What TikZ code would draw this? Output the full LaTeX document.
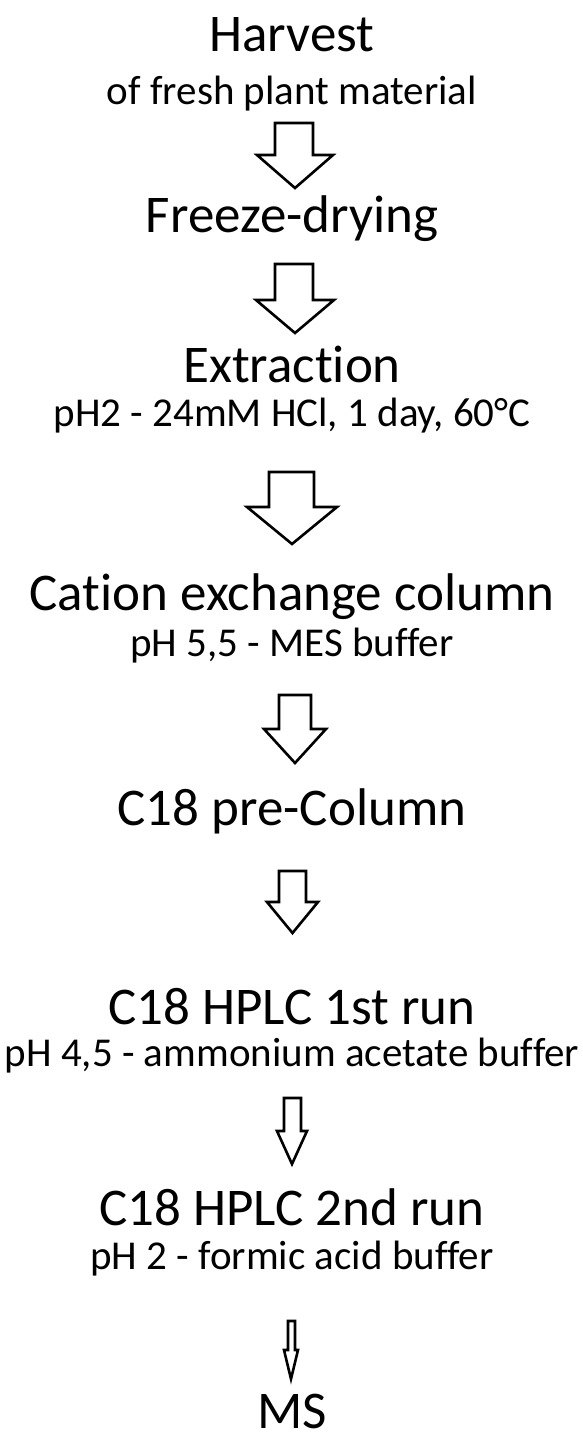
\documentclass[tikz,border=0pt]{standalone}
\usepackage{fontspec}
\setmainfont[Ligatures=NoCommon]{Carlito}
\begin{document}
\begin{tikzpicture}[x=1pt,y=-1pt,
  title/.style={anchor=base,inner sep=0pt,font=\fontsize{53}{60}\selectfont},
  sub/.style={anchor=base,inner sep=0pt,font=\fontsize{41}{47}\selectfont},
  flowarrow/.style={draw=black,line width=2.6pt,fill=white,line join=miter}]
\fill[white] (0,0) rectangle (583,1444);
\useasboundingbox (0,0) rectangle (583,1444);
\node[title] (t1) at (292,51) {Harvest};
\node[sub] (s1) at (292,104) {of fresh plant material};
\node[title] (t2) at (292,232) {Freeze-drying};
\node[title] (t3) at (292,382) {Extraction};
\node[sub] (s3) at (292,426) {pH2 - 24mM HCl, 1 day, 60°C};
\node[title] (t4) at (292,610) {Cation exchange column};
\node[sub] (s4) at (292,656) {pH 5,5 - MES buffer};
\node[title] (t5) at (292,825) {C18 pre-Column};
\node[title] (t6) at (292,1024) {C18 HPLC 1st run};
\node[sub] (s6) at (292,1066) {pH 4,5 - ammonium acetate buffer};
\node[title] (t7) at (292,1225) {C18 HPLC 2nd run};
\node[sub] (s7) at (292,1269) {pH 2 - formic acid buffer};
\node[title] (t8) at (292,1428) {MS};
% arrows: #1 left shaft, #2 right shaft, #3 top, #4 shoulder, #5 head left, #6 head right, #7 tip
\newcommand{\blockarrow}[7]{%
  \draw[flowarrow] (#1,#3) -- (#2,#3) -- (#2,#4) -- (#6,#4) -- ({(#5+#6)/2},#7) -- (#5,#4) -- (#1,#4) -- cycle;}
\blockarrow{275}{313}{123}{155}{257}{333}{188}
\blockarrow{275}{313}{264}{300}{256}{334}{333}
\blockarrow{269}{314}{472}{507}{247}{337}{544}
\blockarrow{279}{311}{695}{729}{264}{326}{763}
\blockarrow{279}{306}{871}{902}{267}{318}{933}
\blockarrow{284}{301}{1098}{1131}{277}{307}{1164}
\blockarrow{288}{295}{1321}{1350}{284}{298}{1379}
\end{tikzpicture}
\end{document}
